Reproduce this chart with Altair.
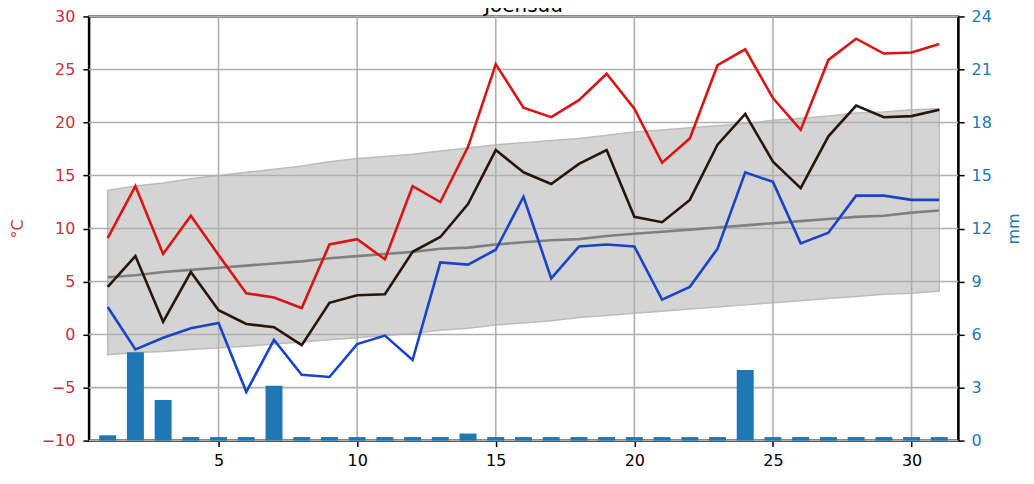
import altair as alt
import pandas as pd

days = list(range(1, 32))
t_max = [9.1, 14.0, 7.6, 11.2, 7.5, 3.9, 3.5, 2.5, 8.5, 9.0, 7.1, 14.0, 12.5, 17.7, 25.5,
         21.4, 20.5, 22.1, 24.6, 21.3, 16.2, 18.5, 25.4, 26.9, 22.3, 19.3, 25.9, 27.9, 26.5, 26.6, 27.4]
t_mean = [4.5, 7.4, 1.2, 5.9, 2.3, 1.0, 0.7, -1.0, 3.0, 3.7, 3.8, 7.8, 9.2, 12.3, 17.4,
          15.3, 14.2, 16.1, 17.4, 11.1, 10.6, 12.7, 17.9, 20.8, 16.3, 13.8, 18.7, 21.6, 20.5, 20.6, 21.2]
t_min = [2.6, -1.4, -0.3, 0.6, 1.1, -5.4, -0.5, -3.8, -4.0, -0.9, -0.1, -2.4, 6.8, 6.6, 8.0,
         13.0, 5.3, 8.3, 8.5, 8.3, 3.3, 4.5, 8.1, 15.3, 14.4, 8.6, 9.6, 13.1, 13.1, 12.7, 12.7]
clim_mean = [5.4, 5.6, 5.9, 6.1, 6.3, 6.5, 6.7, 6.9, 7.2, 7.4, 7.6, 7.8, 8.1, 8.2, 8.5,
             8.7, 8.9, 9.0, 9.3, 9.5, 9.7, 9.9, 10.1, 10.3, 10.5, 10.7, 10.9, 11.1, 11.2, 11.5, 11.7]
clim_hi = [13.6, 14.0, 14.3, 14.7, 15.0, 15.3, 15.6, 15.9, 16.3, 16.6, 16.8, 17.0, 17.3, 17.6, 17.9,
           18.1, 18.3, 18.5, 18.8, 19.1, 19.3, 19.5, 19.7, 19.9, 20.2, 20.4, 20.6, 20.9, 21.0, 21.2, 21.3]
clim_lo = [-1.9, -1.7, -1.6, -1.4, -1.25, -1.1, -0.9, -0.7, -0.5, -0.3, -0.1, 0.1, 0.4, 0.6, 0.9,
           1.1, 1.3, 1.6, 1.8, 2.0, 2.2, 2.4, 2.6, 2.8, 3.0, 3.2, 3.4, 3.6, 3.8, 3.9, 4.1]
precip = [0.3, 5.0, 2.3, 0.2, 0.2, 0.2, 3.1, 0.2, 0.2, 0.2, 0.2, 0.2, 0.2, 0.4, 0.2,
          0.2, 0.2, 0.2, 0.2, 0.2, 0.2, 0.2, 0.2, 4.0, 0.2, 0.2, 0.2, 0.2, 0.2, 0.2, 0.2]

x_ticks = [5, 10, 15, 20, 25, 30]
t_ticks = [-10, -5, 0, 5, 10, 15, 20, 25, 30]
mm_ticks = [0, 3, 6, 9, 12, 15, 18, 21, 24]
title_text = "Joensuu"

df = pd.DataFrame({"day": days, "tmax": t_max, "tmean": t_mean, "tmin": t_min,
                   "cmean": clim_mean, "chi": clim_hi, "clo": clim_lo, "prec": precip})

W, H = 871, 425
FONT = "DejaVu Sans"
RED_LBL = "#c8323c"
BLUE_LBL = "#1f77b4"
GRID = "#b0b0b0"

xs = alt.Scale(domain=[0.5, 31.5], nice=False, zero=False)
ys = alt.Scale(domain=[-10, 30], nice=False, zero=False)
ys2 = alt.Scale(domain=[0, 24], nice=False, zero=False)

x_axis = alt.Axis(values=x_ticks, grid=False, labelColor="black", format="d", labelFlush=False)
left_axis = alt.Axis(values=t_ticks, grid=False, labelColor=RED_LBL, titleColor=RED_LBL,
                     format="d", titlePadding=16, labelFlush=False, titleAngle=270,
                     labelPadding=8)


def X(field):
    return alt.X(f"{field}:Q", scale=xs, axis=x_axis, title=None)


def Y(field):
    return alt.Y(f"{field}:Q", scale=ys, axis=left_axis, title="°C")


base = alt.Chart(df)

band = base.mark_area(color="#d4d4d4", stroke="#bcbcbc", strokeWidth=1.5, opacity=1).encode(
    x=X("day"), y=Y("clo"), y2="chi:Q",
)

hgrid = alt.Chart(pd.DataFrame({"v": t_ticks})).mark_rule(color=GRID, strokeWidth=1.6).encode(
    y=Y("v")
)
vgrid = alt.Chart(pd.DataFrame({"d": x_ticks})).mark_rule(color=GRID, strokeWidth=1.6).encode(
    x=X("d")
)


def line(field, color):
    return base.mark_line(color=color, strokeWidth=2.6).encode(x=X("day"), y=Y(field))


clim = line("cmean", "#808080")
red = line("tmax", "#da1414")
dark = line("tmean", "#2a1608")
blue = line("tmin", "#1a44c8")

title = alt.Chart(pd.DataFrame({"t": [title_text]})).mark_text(
    font=FONT, fontSize=20, align="center", baseline="alphabetic", color="black"
).encode(text="t:N", x=alt.value(W / 2), y=alt.value(-4))

left = alt.layer(band, hgrid, vgrid, clim, red, dark, blue, title)

bars = base.mark_bar(color="#1f77b4", size=17).encode(
    x=X("day"),
    y=alt.Y("prec:Q", scale=ys2, title="mm",
            axis=alt.Axis(orient="right", values=mm_ticks, grid=False, labelColor=BLUE_LBL,
                          titleColor=BLUE_LBL, format="d", titlePadding=30, labelFlush=False,
                          titleAngle=270, labelPadding=7)),
)

chart = alt.layer(left, bars).resolve_scale(y="independent").properties(
    width=W, height=H,
    autosize=alt.AutoSizeParams(type="none"),
    padding={"left": 81, "top": 8, "right": 68, "bottom": 30},
).configure_view(stroke="black", strokeWidth=2).configure_axis(
    labelFont=FONT, labelFontSize=16, titleFont=FONT, titleFontSize=16, titleFontWeight="normal",
    domainColor="black", domainWidth=2, tickColor="black", tickWidth=1.5, tickSize=6,
    labelPadding=6,
)

chart.save("out.html", embed_options={"renderer": "svg", "actions": False})
